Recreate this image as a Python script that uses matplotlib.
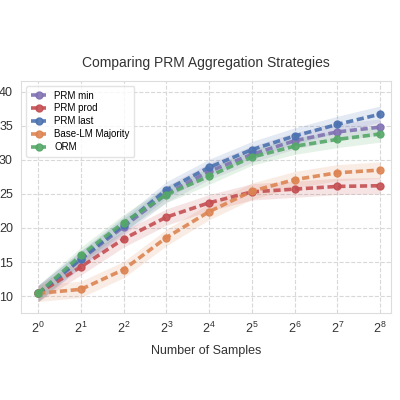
import matplotlib.pyplot as plt
import numpy as np

# number of samples (powers of two)
samples = [1, 2, 4, 8, 16, 32, 64, 128, 256]

prm_min = [10.4, 15.4, 20.2, 25.0, 28.3, 30.8, 32.8, 34.1, 34.8]
prm_prod = [10.4, 14.3, 18.4, 21.6, 23.7, 25.3, 25.7, 26.1, 26.2]
prm_last = [10.4, 15.5, 20.5, 25.6, 28.9, 31.5, 33.5, 35.2, 36.7]
base_majority = [10.4, 11.0, 13.9, 18.6, 22.4, 25.4, 27.1, 28.1, 28.5]
orm = [10.4, 16.0, 20.8, 24.9, 27.6, 30.4, 32.0, 33.0, 33.8]

labels = ['PRM min', 'PRM prod', 'PRM last', 'Base-LM Majority', 'ORM']
colors = ['#8172B3', '#C44E52', '#4C72B0', '#DD8452', '#55A868']
series = [prm_min, prm_prod, prm_last, base_majority, orm]
band = 1.2

plt.rcParams['font.family'] = ['Liberation Sans', 'DejaVu Sans']
plt.rcParams['mathtext.fontset'] = 'custom'
plt.rcParams['mathtext.rm'] = 'Liberation Sans'
plt.rcParams['mathtext.it'] = 'Liberation Sans'

fig = plt.figure(figsize=(4, 4), dpi=100)
ax = fig.add_axes([0.053, 0.218, 0.925, 0.58])

for lab, col, ys in zip(labels, colors, series):
    ys = np.array(ys)
    ax.fill_between(samples, ys - band, ys + band, color=col, alpha=0.15,
                    linewidth=0)
    ax.plot(samples, ys, color=col, linestyle='--', dashes=(2, 1),
            marker='o', markersize=5, linewidth=2.6, alpha=0.9, label=lab)

ax.set_xscale('log', base=2)
ax.set_xlim(2 ** -0.4, 2 ** 8.26)
ax.set_ylim(7.55, 41.6)
ax.set_xticks(samples)
ax.set_yticks([10, 15, 20, 25, 30, 35, 40])
ax.minorticks_off()

ax.grid(True, linestyle='--', color='#d8d8d8', linewidth=0.8)
ax.set_axisbelow(True)
for sp in ax.spines.values():
    sp.set_color('#dddddd')
ax.tick_params(length=0, labelsize=9, colors='#333333', pad=6)

ax.set_title('Comparing PRM Aggregation Strategies', fontsize=10,
             color='#333333', pad=10)
ax.set_xlabel('Number of Samples', fontsize=9, color='#333333', labelpad=6)

leg = ax.legend(loc='upper left', fontsize=7, frameon=True,
                handlelength=1.6, borderpad=0.5, labelspacing=0.3)
leg.get_frame().set_edgecolor('#dddddd')

plt.savefig('out.png', dpi=100)
